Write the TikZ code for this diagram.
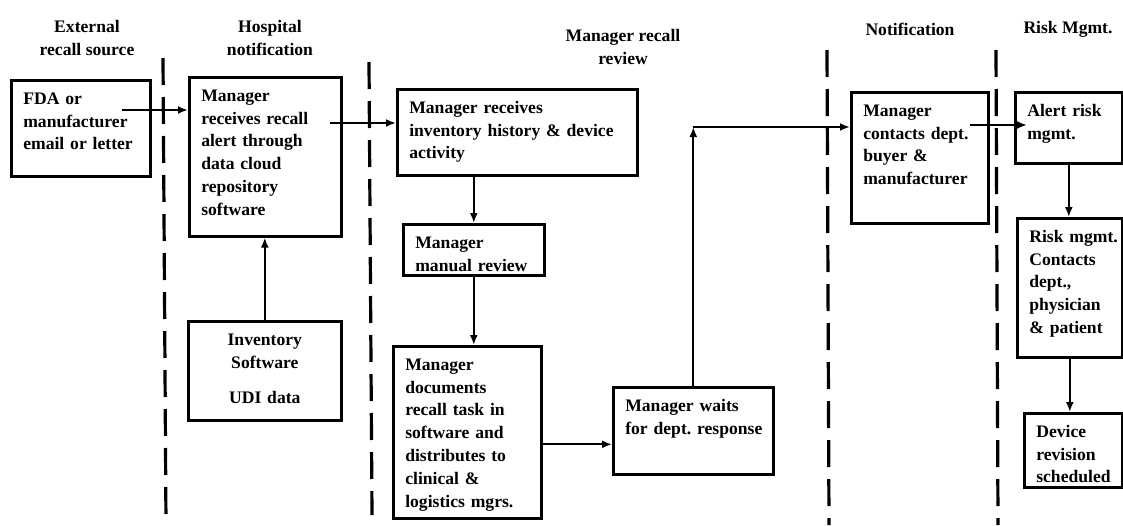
\documentclass[tikz,border=0pt]{standalone}
\usepackage{fontspec}
\setmainfont{Liberation Serif}
\usetikzlibrary{arrows.meta}
\tikzstyle{stepbox}=[rectangle,draw=black,line width=2.6pt,anchor=north west,
inner xsep=12pt,inner ysep=4pt,text height=20pt,align=left]
\tikzstyle{lanetitle}=[align=center]
\tikzstyle{lane}=[line width=3.2pt,dash pattern=on 27pt off 12pt]
\tikzstyle{flow}=[line width=2pt]
\frenchspacing

\begin{document}
\begin{tikzpicture}[x=1pt,y=-1pt,>={Latex[length=10pt,width=8pt]},
        font=\fontsize{17.6}{22.8}\selectfont\bfseries]
            \useasboundingbox (0,0) rectangle (1123,525);

            % LANE TITLES

            \node[lanetitle] (extt) at (87,38) {External\\recall source};
            \node[lanetitle] (hospt) at (270,38) {Hospital\\notification};
            \node[lanetitle] (mgrt) at (623,47) {Manager recall\\review};
            \node[lanetitle] (notift) at (910,29) {Notification};
            \node[lanetitle] (riskt) at (1068,29) {Risk Mgmt.};

            \draw[lane] (163,58) -- (166,525);
            \draw[lane] (369,62) -- (372,515);
            \draw[lane] (827,50) -- (829,525);
            \draw[lane] (996,50) -- (998,525);

            % BOXES

            \node[stepbox,text width=115pt,text depth=68pt] (fda) at (10,79) {FDA or\\manufacturer\\email or letter};
            \node[stepbox,text width=128pt,text depth=131pt] (hosp) at (188,76) {Manager\\receives recall\\alert through\\data cloud\\repository\\software};
            \node[stepbox,text width=129pt,text depth=71pt,align=center] (inv) at (187,320) {Inventory\\Software\\[13pt]UDI data};
            \node[stepbox,text width=216pt,text depth=58pt] (recv) at (396,88) {Manager receives\\inventory history \& device\\activity};
            \node[stepbox,text width=117pt,text depth=23pt] (manual) at (402,223) {Manager\\manual review};
            \node[stepbox,text width=124pt,text depth=144pt] (docs) at (392,345) {Manager\\documents\\recall task in\\software and\\distributes to\\clinical \&\\logistics mgrs.};
            \node[stepbox,text width=136pt,text depth=59pt] (waits) at (612,386) {Manager waits\\\mbox{for dept. response}};
            \node[stepbox,text width=113pt,text depth=103pt] (notif) at (850,91) {Manager\\contacts dept.\\buyer \&\\manufacturer};
            \node[stepbox,text width=83pt,text depth=43pt] (alert) at (1014,91) {Alert risk\\mgmt.};
            \node[stepbox,text width=81pt,text depth=111pt] (risk) at (1016,217) {\mbox{Risk mgmt.}\\Contacts\\dept.,\\physician\\\& patient};
            \node[stepbox,text width=74pt,text depth=46pt] (device) at (1023,412) {Device\\revision\\\mbox{scheduled}};

            % CONNECTIONS

            \coordinate (fdaout) at (122,110);
            \coordinate (hospout) at (330,123);
            \coordinate (docsout) at ([yshift=-12pt]docs.east);
            \coordinate (turn) at (waits.north |- 0,127);
            \coordinate (notifout) at (970,125);
            \coordinate (alertin) at (1027,125);

            \path[->,flow] (fdaout) edge node {} (fdaout -| hosp.west);
            \path[->,flow] (inv.north) edge node {} (inv.north |- hosp.south);
            \path[->,flow] (hospout) edge node {} (hospout -| recv.west);
            \path[->,flow] (manual.north |- recv.south) edge node {} (manual.north);
            \path[->,flow] (manual.south) edge node {} (manual.south |- docs.north);
            \path[->,flow] (docsout) edge node {} (docsout -| waits.west);
            \path[->,flow] (waits.north) edge node {} (turn);
            \path[->,flow] (turn) edge node {} (turn -| notif.west);
            \path[->,flow] (notifout) edge node {} (alertin);
            \path[->,flow] (alert.south) edge node {} (alert.south |- risk.north);
            \path[->,flow] (risk.south) edge node {} (risk.south |- device.north);

\end{tikzpicture}
\end{document}
